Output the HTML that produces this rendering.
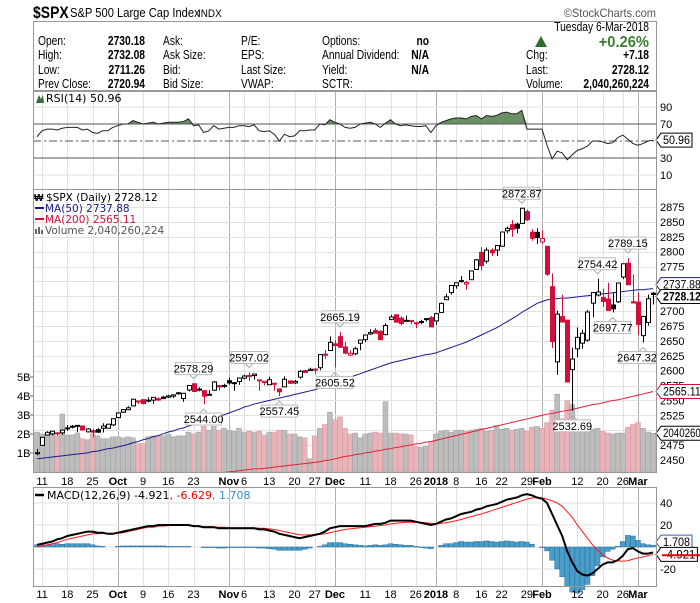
<!DOCTYPE html>
<html><head><meta charset="utf-8">
<style>
html,body{margin:0;padding:0;background:#fff;}
svg{display:block;font-family:"Liberation Sans",Arial,sans-serif;}
.mono{font-family:"DejaVu Sans","Liberation Sans",sans-serif;}
</style></head>
<body>
<svg id="chart" width="700" height="603" viewBox="0 0 700 603" xmlns="http://www.w3.org/2000/svg">
  <g id="title">
    <text id="t1" x="33" y="18" font-size="17" font-weight="bold">$SPX</text>
    <text id="t2" x="70" y="17" font-size="13">S&amp;P 500 Large Cap Index</text>
    <text id="t3" x="198" y="17" font-size="11">INDX</text>
    <text id="t4" x="656" y="17" font-size="12" fill="#555" text-anchor="end">©StockCharts.com</text>
  </g>
  <g id="header">
    <rect x="33.5" y="21.5" width="623" height="69" fill="#fff" stroke="#999"/>
  </g>
  <g id="rsi"></g>
  <g id="main"></g>
  <g id="macd"></g>
</svg>
<script>
const dates=['9/8','9/11','9/12','9/13','9/14','9/15','9/18','9/19','9/20','9/21','9/22','9/25','9/26','9/27','9/28','9/29',
'10/2','10/3','10/4','10/5','10/6','10/9','10/10','10/11','10/12','10/13','10/16','10/17','10/18','10/19','10/20','10/23','10/24','10/25','10/26','10/27','10/30','10/31',
'11/1','11/2','11/3','11/6','11/7','11/8','11/9','11/10','11/13','11/14','11/15','11/16','11/17','11/20','11/21','11/22','11/24','11/27','11/28','11/29','11/30',
'12/1','12/4','12/5','12/6','12/7','12/8','12/11','12/12','12/13','12/14','12/15','12/18','12/19','12/20','12/21','12/22','12/26','12/27','12/28','12/29',
'1/2','1/3','1/4','1/5','1/8','1/9','1/10','1/11','1/12','1/16','1/17','1/18','1/19','1/22','1/23','1/24','1/25','1/26','1/29','1/30','1/31',
'2/1','2/2','2/5','2/6','2/7','2/8','2/9','2/12','2/13','2/14','2/15','2/16','2/20','2/21','2/22','2/23','2/26','2/27','2/28',
'3/1','3/2','3/5','3/6'];
const closes=[2461.4,2488.1,2496.5,2498.4,2495.6,2500.2,2503.9,2506.7,2508.2,2500.6,2502.2,2496.7,2496.8,2507.0,2510.1,2519.4,
2529.1,2534.6,2537.7,2552.1,2549.3,2544.7,2550.6,2555.2,2550.9,2553.2,2557.6,2559.4,2561.3,2562.1,2575.2,2565.0,2569.1,2557.2,2560.4,2581.1,2572.8,2575.3,
2579.4,2579.9,2587.8,2591.1,2590.6,2594.4,2584.6,2582.3,2584.8,2578.9,2564.6,2585.6,2578.9,2582.1,2599.0,2597.1,2602.4,2601.4,2627.0,2626.1,2647.6,
2642.2,2639.4,2629.6,2629.3,2637.0,2651.5,2660.0,2664.1,2662.9,2652.0,2675.8,2690.2,2681.5,2679.3,2684.6,2683.3,2680.5,2682.6,2687.5,2673.6,
2695.8,2713.1,2724.0,2743.2,2747.7,2751.3,2748.2,2767.6,2786.2,2776.4,2802.6,2798.0,2810.3,2833.0,2839.1,2837.5,2839.3,2872.9,2853.5,2822.4,2823.8,
2822.0,2762.1,2648.9,2695.1,2681.7,2581.0,2619.6,2656.0,2662.9,2698.6,2731.2,2732.2,2716.3,2701.3,2704.0,2747.3,2779.6,2744.3,2713.8,
2677.7,2691.3,2720.9,2728.1];
const opens=[2462.3,2474.5,2491.9,2493.9,2494.6,2495.7,2502.5,2506.3,2506.8,2507.2,2497.3,2499.4,2501.0,2503.3,2503.4,2509.0,
2521.2,2530.3,2534.5,2540.9,2547.4,2551.4,2549.0,2550.6,2552.9,2555.7,2555.6,2557.2,2562.9,2553.4,2567.6,2578.1,2568.7,2566.5,2560.1,2567.3,2575.0,2575.0,
2583.2,2579.5,2581.9,2587.5,2592.1,2591.8,2584.0,2580.2,2576.5,2577.8,2569.4,2572.9,2582.9,2579.5,2589.2,2600.3,2600.4,2602.7,2605.1,2627.8,2633.9,
2645.1,2657.2,2639.8,2626.2,2628.4,2646.2,2652.2,2661.7,2667.6,2665.9,2660.6,2685.9,2694.0,2688.2,2683.0,2684.2,2679.1,2682.1,2686.1,2689.2,
2683.7,2697.9,2719.3,2731.3,2742.7,2751.2,2745.6,2752.9,2770.2,2798.9,2784.0,2802.4,2802.6,2809.2,2835.1,2845.4,2846.2,2847.5,2867.2,2832.7,2832.4,
2816.5,2808.9,2741.1,2614.8,2690.9,2685.0,2601.8,2636.8,2646.3,2651.2,2713.5,2727.1,2722.9,2720.5,2710.4,2715.8,2757.4,2780.5,2715.8,
2715.2,2658.9,2681.1,2730.2];
const highs=[2468.6,2488.9,2498.4,2498.4,2496.8,2500.2,2508.9,2508.9,2508.9,2507.8,2503.5,2502.5,2503.5,2511.8,2510.8,2519.4,
2529.2,2535.1,2540.5,2552.5,2549.4,2551.8,2555.2,2555.2,2555.3,2557.7,2559.7,2559.7,2564.1,2562.4,2575.4,2578.3,2572.2,2567.4,2567.4,2582.6,2576.3,2578.1,
2588.4,2581.1,2588.4,2593.4,2597.0,2595.0,2584.0,2583.0,2590.1,2579.7,2569.4,2590.4,2583.0,2584.6,2601.2,2600.9,2605.0,2604.2,2627.7,2634.9,2657.7,
2650.6,2665.2,2648.7,2634.4,2640.0,2651.7,2660.3,2669.7,2671.9,2668.1,2679.6,2694.0,2694.2,2691.0,2692.6,2685.4,2682.4,2685.6,2688.0,2692.1,
2696.0,2714.4,2729.3,2743.5,2748.5,2759.1,2750.8,2767.6,2787.9,2807.5,2807.0,2805.8,2810.3,2833.0,2842.2,2853.0,2848.6,2872.9,2870.6,2837.8,2839.3,
2835.8,2808.9,2763.4,2701.0,2727.7,2685.3,2638.7,2672.6,2668.8,2702.1,2731.5,2754.4,2737.6,2747.8,2731.3,2747.8,2780.0,2789.2,2761.5,
2730.9,2691.9,2728.1,2732.1];
const lows=[2458.0,2474.5,2491.9,2491.4,2490.9,2492.3,2499.0,2503.1,2496.7,2499.1,2496.5,2488.0,2495.1,2496.3,2502.9,2507.0,
2520.4,2528.9,2533.7,2540.5,2543.8,2543.6,2547.0,2544.4,2548.8,2552.6,2554.3,2554.0,2559.8,2547.9,2565.0,2564.3,2565.4,2544.0,2559.6,2566.2,2566.6,2571.0,
2576.8,2566.2,2576.2,2585.7,2583.0,2585.0,2566.3,2575.6,2576.5,2566.6,2557.4,2572.9,2577.6,2577.4,2586.5,2596.8,2600.4,2594.0,2600.8,2620.0,2633.9,
2605.5,2639.4,2627.7,2624.8,2626.2,2634.4,2648.0,2659.9,2662.9,2652.0,2659.6,2685.9,2680.7,2676.1,2682.7,2678.1,2671.6,2678.0,2682.6,2673.6,
2677.3,2697.8,2719.1,2727.9,2737.6,2747.9,2736.1,2752.8,2769.6,2768.6,2780.0,2792.6,2792.6,2808.1,2830.6,2824.8,2830.9,2846.2,2851.5,2818.3,2813.0,
2812.7,2759.0,2638.2,2593.1,2681.3,2580.6,2532.7,2622.5,2637.1,2648.9,2689.8,2725.1,2706.8,2701.3,2697.8,2713.7,2753.8,2744.2,2713.4,
2659.7,2647.3,2675.8,2711.3];
const volumes=[2.1,2.0,2.0,2.0,1.9,3.05,1.95,1.95,2.05,1.75,1.7,2.0,1.9,1.75,1.75,1.85,
1.85,1.8,1.85,1.8,1.5,1.5,1.85,1.9,1.9,1.9,2.0,1.85,1.9,1.9,2.1,2.0,2.1,2.4,2.2,2.4,2.2,2.3,
2.2,2.15,2.3,2.1,2.15,2.1,2.15,1.95,2.1,2.1,2.2,2.2,2.0,2.0,1.85,1.8,0.7,1.9,2.3,2.5,3.15,
2.75,2.9,2.3,2.0,2.05,1.8,2.0,2.05,2.1,2.05,3.7,2.05,2.05,2.0,2.0,1.95,1.35,1.3,1.35,1.6,
2.0,2.15,2.2,2.1,2.2,2.2,2.15,2.2,2.25,2.3,2.15,2.2,2.45,2.25,2.3,2.2,2.25,2.3,2.15,2.35,2.4,
2.3,2.6,3.25,4.1,2.8,3.75,3.55,2.55,2.2,2.3,2.25,2.3,2.15,2.05,2.0,2.05,2.05,2.35,2.5,
2.6,2.3,2.1,2.04];
const ma50=[2452,2453,2454,2455,2456,2457,2458,2459,2460,2461,2462,2464,2465,2467,2469,2470,
2472,2474,2476,2479,2481,2484,2486,2489,2491,2494,2497,2499,2502,2504,2507,2509,2512,2514,2517,2520,2523,2526,
2529,2532,2535,2539,2541,2544,2546,2548,2550,2552,2554,2556,2558,2560,2562,2564,2566,2568,2571,2574,2577,
2581,2584,2587,2589,2592,2595,2598,2601,2604,2607,2610,2613,2615,2617,2619,2621,2623,2625,2627,2628,
2630,2633,2636,2639,2642,2645,2648,2652,2656,2660,2664,2668,2672,2677,2682,2687,2692,2698,2703,2708,2713,
2716,2719,2720,2721,2722,2722,2723,2724,2725,2726,2727,2728,2729,2730,2731,2732,2733,2734,2735,
2736,2736,2737,2737.9];
const ma200=[2394,2395,2396,2397,2398,2399,2400,2401,2402,2403,2404,2405,2405,2406,2407,2408,
2409,2410,2411,2412,2413,2414,2415,2416,2416,2417,2418,2419,2420,2421,2422,2423,2424,2425,2426,2427,2428,2429,
2430,2431,2432,2433,2434,2435,2435,2436,2437,2438,2439,2440,2441,2442,2443,2444,2445,2446,2447,2449,2450,
2452,2454,2456,2457,2459,2460,2462,2463,2465,2466,2468,2469,2471,2472,2474,2475,2477,2478,2480,2481,
2483,2485,2487,2489,2491,2493,2495,2497,2499,2501,2503,2505,2507,2509,2511,2513,2515,2517,2519,2521,2523,
2525,2527,2528,2530,2532,2533,2535,2537,2539,2541,2543,2544,2546,2548,2550,2551,2553,2555,2557,
2559,2561,2563,2565.1];
const rsi=[55,62,64,64,63,65,66,66,66,63,64,60,59,62,62,66,
68,70,70,74,72,70,71,72,70,71,72,72,72,73,76,68,69,60,62,68,64,65,
66,66,68,68,67,69,62,61,62,58,50,58,55,56,62,62,63,63,70,69,75,
72,70,66,65,66,70,71,72,70,66,71,75,70,68,69,68,67,67,68,60,
68,72,74,76,77,77,76,79,80,76,80,79,80,83,84,82,82,86,64,64,64,
64,45,29,38,36,28,34,39,41,44,50,50,49,47,48,54,57,52,47,
45,47,50,50.96];
const macdLine=[2,3,4,5,7,8,10,11,12,13,14,14,13,13,12,12,
13,14,15,16,17,18,19,19,20,20,20,20,20,20,20,19,19,18,18,18,17,17,
17,17,17,17,17,17,16,16,15,14,12,11,10,9,8,9,10,11,12,14,17,
18,19,19,19,19,19,19,20,21,21,22,24,24,24,24,24,23,22,21,20,
21,23,25,26,28,30,31,32,34,35,37,38,39,41,43,44,45,47,48,47,45,
44,40,30,20,10,-4,-14,-22,-25,-26,-24,-20,-16,-14,-14,-12,-8,-2,-1,
-4,-6,-6,-4.921];
const signalLine=[0,1,2,3,4,5.5,7,8,9,10,11,12,12,12.5,12,12,
12.5,13,14,15,16,17,18,18,19,19,19.5,19.5,19.5,19.5,19.5,19,19,18.5,18.5,18.5,18,18,
17.5,17.5,17.5,17.5,17.5,17.5,17,17,16.5,16,15,14,13,12,11,11,11,11,11.5,12,13,
14,15,16,16.5,17,17.5,18,18.5,19,19.5,20,21,21.5,22,22.5,22.5,22.5,22.5,22,21.5,
21,21.5,22,23,24,25,26.5,27.5,29,30,31.5,33,34.5,36,37.5,39,40.5,42,43.5,44.5,45,
44.5,43.5,42,40,37,32,27,20,14,8,2,-3,-7,-10,-12,-12.5,-13,-12.5,-11,
-10,-9,-8,-6.629];
const tickDates=['9/11','9/18','9/25','10/2','10/9','10/16','10/23','11/1','11/6','11/13','11/20','11/27','12/1','12/11','12/18','12/26','1/2','1/8','1/16','1/22','1/29','2/1','2/12','2/20','2/26','3/1'];
const tickLabels=['11','18','25','Oct','9','16','23','Nov','6','13','20','27','Dec','11','18','26','2018','8','16','22','29','Feb','12','20','26','Mar'];
const tickMonth=[0,0,0,1,0,0,0,1,0,0,0,0,1,0,0,0,1,0,0,0,0,1,0,0,0,1];
const priceTicks=[2450,2475,2500,2525,2550,2575,2600,2625,2650,2675,2700,2725,2750,2775,2800,2825,2850,2875];
const volTicks=[1,2,3,4,5];
const rsiTicks=[90,70,30,10];
const macdTicks=[40,20,-20];
const annDates=['10/23','10/25','11/7','11/15','12/4','12/1','1/26','2/16','2/22','2/27','3/2','2/9'];
const annValues=[2578.29,2544.00,2597.02,2557.45,2665.19,2605.52,2872.87,2754.42,2697.77,2789.15,2647.32,2532.69];
const annAbove=[1,0,1,0,1,0,1,1,0,1,0,0];

const NS='http://www.w3.org/2000/svg';
function mk(parent,tag,attrs,text){const e=document.createElementNS(NS,tag);for(const k in attrs)e.setAttribute(k,attrs[k]);if(text!==undefined)e.textContent=text;parent.appendChild(e);return e;}
function narrow(el,f){const w=el.getComputedTextLength();if(w>0){el.setAttribute('textLength',(w*f).toFixed(1));el.setAttribute('lengthAdjust','spacingAndGlyphs');}return el;}
const L=33,R=656;
const X=i=>37+i*5.05;
const idx=d=>dates.indexOf(d);
const yP=p=>207+(2875-p)*0.5953;
const yV=v=>472-v*19;
const yR=r=>141-(r-50)*0.85;
const yM=m=>547-m*1.1;

narrow(document.getElementById('t1'),0.82);
narrow(document.getElementById('t2'),0.86);
narrow(document.getElementById('t3'),0.9);
narrow(document.getElementById('t4'),0.92);

// header
const hdr=document.getElementById('header');
const rowsY=[45,59,74,88];
const cols=[
 {x:38,labels:['Open:','High:','Low:','Prev Close:']},
 {x:163,labels:['Ask:','Ask Size:','Bid:','Bid Size:']},
 {x:241,labels:['P/E:','EPS:','Last Size:','VWAP:']},
 {x:322,labels:['Options:','Annual Dividend:','Yield:','SCTR:']}];
const vals1=['2730.18','2732.08','2711.26','2720.94'];
const vals2=['no','N/A','N/A',''];
const HF=0.82;
cols.forEach(c=>c.labels.forEach((t,j)=>{const e=mk(hdr,'text',{x:c.x,y:rowsY[j],'font-size':12.5},t);


narrow(e,HF);}));
vals1.forEach((t,j)=>{const e=mk(hdr,'text',{x:145,y:rowsY[j],'font-size':12.5,'font-weight':'bold','text-anchor':'end'},t);


narrow(e,HF);});
vals2.forEach((t,j)=>{if(!t)return;const e=mk(hdr,'text',{x:429,y:rowsY[j],'font-size':12.5,'font-weight':'bold','text-anchor':'end'},t);


narrow(e,HF);});
let e;
e=mk(hdr,'text',{x:649,y:31,'font-size':12.5,'text-anchor':'end'},'Tuesday  6-Mar-2018');


narrow(e,HF);
e=mk(hdr,'polygon',{points:'535,47 541,36 547,47',fill:'#2e6b2e'});


e=mk(hdr,'text',{x:649,y:47,'font-size':16,'font-weight':'bold',fill:'#3a7d2c','text-anchor':'end'},'+0.26%');


narrow(e,0.92);
[['Chg:','+7.18',59],['Last:','2728.12',74],['Volume:','2,040,260,224',88]].forEach(r=>{
 let a=mk(hdr,'text',{x:526,y:r[2],'font-size':12.5},r[0]);
 
 
 narrow(a,HF);
 let b=mk(hdr,'text',{x:649,y:r[2],'font-size':12.5,'font-weight':'bold','text-anchor':'end'},r[1]);
 
 
 narrow(b,HF);});

function vgrid(g,top,bot){
 tickDates.forEach((d,k)=>{const x=Math.round(X(idx(d)))+0.5;
  const l=mk(g,'line',{x1:x,x2:x,y1:top,y2:bot,stroke:tickMonth[k]?'#b0b0b0':'#e2e2e2'});
  
  });
}
function dateAxis(g,y){
 tickDates.forEach((d,k)=>{const t=mk(g,'text',{x:X(idx(d)),y:y,'font-size':11,'text-anchor':'middle','font-weight':tickMonth[k]?'bold':'normal'},tickLabels[k]);
  
  });
}
function tag(g,x,y,text,stroke,bold,name){
 const w=text.length*5.4+4;
 const p=mk(g,'polygon',{points:`${x},${y} ${x+5},${y-7} ${x+5+w},${y-7} ${x+5+w},${y+7} ${x+5},${y+7}`,fill:'#fff',stroke:stroke});
 
 
 const t=mk(g,'text',{x:x+7,y:y+4,'font-size':11.5,'font-weight':bold?'bold':'normal',textLength:(w-4).toFixed(1),lengthAdjust:'spacingAndGlyphs'},text);
 
 
}

// RSI
const rg=document.getElementById('rsi');
vgrid(rg,91,189);
[90,10].forEach(v=>{const l=mk(rg,'line',{x1:L,x2:R,y1:yR(v),y2:yR(v),stroke:'#e2e2e2'});

});
let fillPts='';
rsi.forEach((r,i)=>{fillPts+=`${X(i)},${yR(Math.max(r,70))} `;});
fillPts+=`${X(rsi.length-1)},${yR(70)} ${X(0)},${yR(70)}`;
e=mk(rg,'polygon',{points:fillPts,fill:'#6b8f66',stroke:'none'});


[70,30].forEach(v=>{const l=mk(rg,'line',{x1:L,x2:R,y1:yR(v),y2:yR(v),stroke:'#555'});

});
e=mk(rg,'line',{x1:L,x2:R,y1:yR(50),y2:yR(50),stroke:'#555','stroke-dasharray':'8,3,2,3'});


e=mk(rg,'polyline',{points:rsi.map((r,i)=>`${X(i)},${yR(r)}`).join(' '),fill:'none',stroke:'#222','stroke-width':1});


rsiTicks.forEach(v=>{const t=mk(rg,'text',{x:660,y:yR(v)+4,'font-size':11},String(v));

});
tag(rg,656,yR(50.96),'50.96','#000',false,'rsi-value-tag');
e=mk(rg,'text',{x:46,y:102,'font-size':11,class:'mono'},'RSI(14) 50.96');


e=mk(rg,'polygon',{points:'36,103 39,95 41,99 43,95 44,103',fill:'#3a6b3a'});


e=mk(rg,'rect',{x:L+0.5,y:91.5,width:R-L,height:98,fill:'none',stroke:'#999'});



// MAIN
const mg=document.getElementById('main');
vgrid(mg,190,472);
priceTicks.forEach(p=>{const l=mk(mg,'line',{x1:L,x2:R,y1:Math.round(yP(p))+0.5,y2:Math.round(yP(p))+0.5,stroke:'#e2e2e2'});


const t=mk(mg,'text',{x:660,y:yP(p)+4,'font-size':11},String(p));

});
volTicks.forEach(v=>{const t=mk(mg,'text',{x:17,y:yV(v)+4,'font-size':11},v+'B');


const l=mk(mg,'line',{x1:30,x2:L,y1:yV(v),y2:yV(v),stroke:'#666'});

});
volumes.forEach((v,i)=>{const down=i>0&&closes[i]<closes[i-1];
 const r=mk(mg,'rect',{x:X(i)-2.5,y:yV(v),width:5,height:472-yV(v),fill:down?'#e8b4b9':'#bdbdbd',stroke:down?'#d9939b':'#a0a0a0','stroke-width':0.5});
 
 });
function line(g,arr,yf,color,w,name){
 const el=mk(g,'polyline',{points:arr.map((v,i)=>`${X(i)},${yf(v)}`).join(' '),fill:'none',stroke:color,'stroke-width':w});
 
 
}
const clipR=mk(mg,'clipPath',{id:'mclip'});mk(clipR,'rect',{x:L,y:190,width:R-L,height:282});
const lg=mk(mg,'g',{'clip-path':'url(#mclip)'});


line(lg,ma200,yP,'#e0203a',1,'ma200-line');
line(lg,ma50,yP,'#1a1a8c',1,'ma50-line');
closes.forEach((c,i)=>{
 const o=opens[i],h=highs[i],l=lows[i];
 const down=i>0&&c<closes[i-1];
 const col=down?'#d0103a':'#000';
 const x=Math.round(X(i))+0.5;
 const w=mk(mg,'line',{x1:x,x2:x,y1:yP(h),y2:yP(l),stroke:col});
 
 
 const top=yP(Math.max(o,c)),bh=Math.max(1,Math.abs(yP(o)-yP(c)));
 const b=mk(mg,'rect',{x:x-2,y:top,width:4,height:bh,fill:c>o?'#fff':col,stroke:col,'stroke-width':1});
 
 
});
annDates.forEach((d,k)=>{
 const i=idx(d);const x=X(i);const txt=annValues[k].toFixed(2);const w=36;
 const y=annAbove[k]?yP(highs[i])-5:yP(lows[i])+5;
 const by=annAbove[k]?y-16:y+4;
 const bx=Math.min(x-w/2,R-w-1);
 const p=mk(mg,'path',{d:annAbove[k]?`M${x-4},${y-4} L${x},${y} L${x+4},${y-4}`:`M${x-4},${y+4} L${x},${y} L${x+4},${y+4}`,fill:'none',stroke:'#aaa'});
 
 
 const r=mk(mg,'rect',{x:bx,y:by,width:w,height:12,fill:'#fff',stroke:'#bbb'});
 
 
 const t=mk(mg,'text',{x:bx+w/2,y:by+10,'font-size':11,'text-anchor':'middle'},txt);
 
 
});
tag(mg,656,yP(2737.88)-4,'2737.88','#1a1a8c',false,'ma50-value-tag');
tag(mg,656,yP(2728.12)+2,'2728.12','#000',true,'last-price-tag');
tag(mg,656,yP(2565.11),'2565.11','#d0103a',false,'ma200-value-tag');
tag(mg,656,yV(2.04),'2040260','#000',false,'volume-value-tag');
const leg=[['$SPX (Daily) 2728.12','#000',201],['MA(50) 2737.88','#1a1a8c',212],['MA(200) 2565.11','#d0103a',223],['Volume 2,040,260,224','#555',234]];
leg.forEach((l,k)=>{
 const t=mk(mg,'text',{x:k===0?46:45,y:l[2],'font-size':10.5,fill:l[1],class:'mono'},l[0]);
 
 
 if(k===1||k===2){const s=mk(mg,'line',{x1:35,x2:44,y1:l[2]-4,y2:l[2]-4,stroke:l[1],'stroke-width':2});
  
  }
});
e=mk(mg,'text',{x:34,y:201,'font-size':10,'font-weight':'bold'},'₩');


e=mk(mg,'path',{d:'M35,234 v-5 h2 v5 M38,234 v-7 h2 v7 M41,234 v-4 h2 v4',fill:'#666'});


e=mk(mg,'rect',{x:L+0.5,y:189.5,width:R-L,height:283,fill:'none',stroke:'#999'});


const da=mk(mg,'g',{});


dateAxis(da,485);

// MACD
const cg=document.getElementById('macd');
vgrid(cg,488,587);
macdTicks.concat([0]).forEach(v=>{const l=mk(cg,'line',{x1:L,x2:R,y1:yM(v),y2:yM(v),stroke:'#e2e2e2'});

});
macdTicks.forEach(v=>{const t=mk(cg,'text',{x:660,y:yM(v)+4,'font-size':11},String(v));

});
macdLine.forEach((m,i)=>{const h=m-signalLine[i];
 const r=mk(cg,'rect',{x:X(i)-2.5,y:Math.min(yM(h),yM(0)),width:5,height:Math.abs(yM(h)-yM(0)),fill:'#4a9cc9',stroke:'#2a6e99','stroke-width':0.5});
 
 });
line(cg,signalLine,yM,'#ff1a1a',1,'macd-signal-line');
line(cg,macdLine,yM,'#000',2,'macd-line');
tag(cg,656,yM(1.708)-3,'1.708','#3a5fa0',false,'macd-histogram-tag');
tag(cg,656,yM(-4.921)+2,'-4.921','#000',false,'macd-value-tag');
e=mk(cg,'line',{x1:662,x2:700,y1:yM(-6.629)+1,y2:yM(-6.629)+1,stroke:'#e00','stroke-width':2});


const ml=mk(cg,'text',{x:47,y:499,'font-size':11,class:'mono'});


mk(ml,'tspan',{fill:'#000'},'MACD(12,26,9) -4.921');
mk(ml,'tspan',{fill:'#e00'},', -6.629');
mk(ml,'tspan',{fill:'#3a8fc9'},', 1.708');
e=mk(cg,'line',{x1:35,x2:44,y1:495,y2:495,stroke:'#000','stroke-width':2.5});


e=mk(cg,'rect',{x:L+0.5,y:487.5,width:R-L,height:99,fill:'none',stroke:'#999'});


const da2=mk(cg,'g',{});


dateAxis(da2,598);
</script>
</body></html>
